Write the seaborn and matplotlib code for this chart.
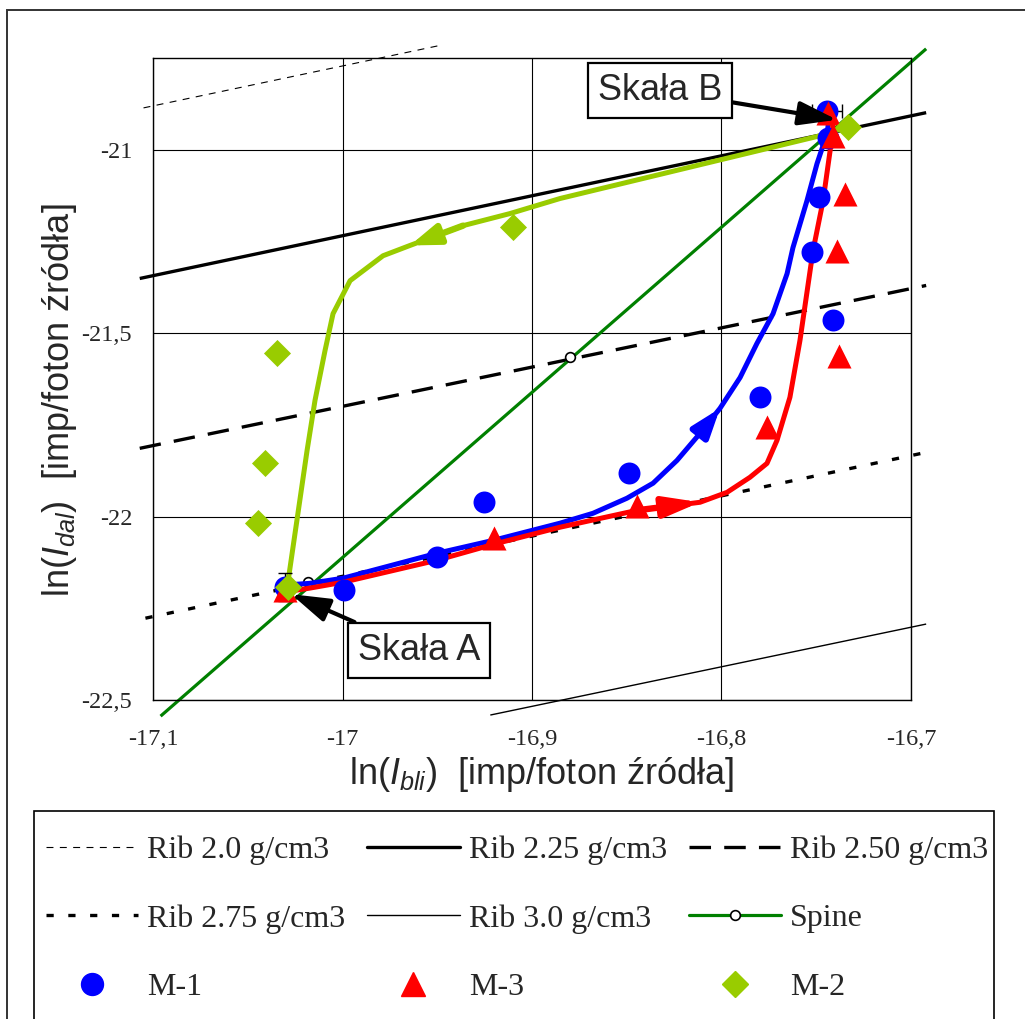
import matplotlib
matplotlib.use("Agg")
import matplotlib.pyplot as plt
from matplotlib.lines import Line2D
from matplotlib.patches import Rectangle
import seaborn as sns

sns.set_style("white")
plt.rcParams["font.family"] = ["Liberation Sans", "DejaVu Sans"]
plt.rcParams["mathtext.fontset"] = "custom"
plt.rcParams["mathtext.rm"] = "Liberation Sans"
plt.rcParams["mathtext.it"] = "Liberation Sans:italic"
plt.rcParams["lines.scale_dashes"] = False

# ---- axis ticks ----
x_ticks = [-17.1, -17.0, -16.9, -16.8, -16.7]
x_tick_labels = ["-17,1", "-17", "-16,9", "-16,8", "-16,7"]
y_ticks = [-22.5, -22.0, -21.5, -21.0]
y_tick_labels = ["-22,5", "-22", "-21,5", "-21"]

# ---- calibration lines (ribs of given density and the spine) ----
rib20_x = [-17.105, -16.947]
rib20_y = [-20.886, -20.714]
rib225_x = [-17.107, -16.692]
rib225_y = [-21.351, -20.899]
rib250_x = [-17.107, -16.692]
rib250_y = [-21.814, -21.370]
rib275_x = [-17.104, -16.692]
rib275_y = [-22.277, -21.825]
rib30_x = [-16.922, -16.692]
rib30_y = [-22.541, -22.293]
spine_x = [-17.096, -16.692]
spine_y = [-22.544, -20.725]
spine_pts_x = [-17.018, -16.880]
spine_pts_y = [-22.179, -21.564]

# ---- measurements ----
m1_x = [-17.0303, -16.9992, -16.9501, -16.9253, -16.8488, -16.7797,
        -16.7522, -16.7486, -16.7412, -16.7438, -16.7443]
m1_y = [-22.192, -22.200, -22.110, -21.960, -21.881, -21.675,
        -21.278, -21.128, -21.463, -20.967, -20.894]
m3_x = [-17.0303, -16.9200, -16.8446, -16.7760, -16.7380,
        -16.7390, -16.7348, -16.7412, -16.7438]
m3_y = [-22.201, -22.059, -21.972, -21.757, -21.561,
        -21.275, -21.120, -20.962, -20.899]
m2_x = [-17.0288, -17.0446, -17.0409, -17.0346, -16.9100, -16.7333]
m2_y = [-22.192, -22.018, -21.855, -21.553, -21.210, -20.937]
m1_yerr_first = 0.038
m1_xerr_last = 0.008

# ---- trajectories between Skała A and Skała B ----
path_m1_x = [-17.0314, -17.0172, -16.9997, -16.9501, -16.9206, -16.8852,
             -16.8678, -16.8499, -16.8361, -16.8235, -16.8113, -16.8008,
             -16.7902, -16.7813, -16.7728, -16.7654, -16.7623, -16.7549,
             -16.7496, -16.7443, -16.7427]
path_m1_y = [-22.187, -22.182, -22.168, -22.100, -22.065, -22.018,
             -21.991, -21.950, -21.909, -21.847, -21.773, -21.705,
             -21.621, -21.528, -21.447, -21.338, -21.267, -21.139,
             -21.038, -20.956, -20.894]
path_m3_x = [-17.0314, -17.0172, -16.9997, -16.9501, -16.9185, -16.8852,
             -16.8446, -16.8113, -16.7971, -16.7850, -16.7760, -16.7707,
             -16.7639, -16.7586, -16.7517, -16.7464, -16.7427, -16.7412,
             -16.7417]
path_m3_y = [-22.206, -22.195, -22.179, -22.119, -22.073, -22.029,
             -21.983, -21.961, -21.934, -21.893, -21.855, -21.792,
             -21.675, -21.520, -21.275, -21.139, -21.003, -20.948,
             -20.894]
path_m2_x = [-16.7332, -16.7480, -16.8852, -16.9116, -16.9364, -16.9644,
             -16.9786, -16.9960, -17.0050, -17.0092, -17.0145, -17.0187,
             -17.0288]
path_m2_y = [-20.937, -20.962, -21.133, -21.174, -21.207, -21.261,
             -21.289, -21.357, -21.447, -21.547, -21.683, -21.820,
             -22.179]

BLUE = "#0000FF"
RED = "#FF0000"
LIME = "#99CC00"
GREEN = "#008000"

W, H = 1025, 1019
fig = plt.figure(figsize=(W / 100, H / 100), dpi=100)
ax = fig.add_axes([153 / W, 1 - 700 / H, 758 / W, 642 / H])
ax.set_xlim(-17.1, -16.7)
ax.set_ylim(-22.5, -20.75)

# line styles shared by plot and legend
st_rib20 = dict(color="black", lw=0.8, ls=(0, (5.0, 4.6)))
st_rib225 = dict(color="black", lw=2.4, ls="-")
st_rib250 = dict(color="black", lw=2.4, ls=(0, (15.5, 9.5)))
st_rib275 = dict(color="black", lw=2.4, ls=(0, (5.2, 10.5)))
st_rib30 = dict(color="black", lw=1.0, ls="-")
st_spine = dict(color=GREEN, lw=2.3, ls="-")
st_spine_mk = dict(marker="o", mfc="white", mec="black", ms=7, mew=1.2)

for xs, ys, st in [(rib20_x, rib20_y, st_rib20), (rib225_x, rib225_y, st_rib225),
                   (rib250_x, rib250_y, st_rib250), (rib275_x, rib275_y, st_rib275),
                   (rib30_x, rib30_y, st_rib30), (spine_x, spine_y, st_spine)]:
    ax.plot(xs, ys, clip_on=False, solid_capstyle="butt",
            dash_capstyle="butt", zorder=2, **st)
ax.plot(spine_pts_x, spine_pts_y, ls="none", zorder=3, **st_spine_mk)

# trajectories
for xs, ys, col in [(path_m1_x, path_m1_y, BLUE), (path_m3_x, path_m3_y, RED),
                    (path_m2_x, path_m2_y, LIME)]:
    sns.lineplot(x=xs, y=ys, sort=False, estimator=None, color=col, lw=3.6,
                 ax=ax, zorder=4, solid_joinstyle="round")


def path_arrow(xs, ys, i0, i1, col, hl=1.7, hw=0.6):
    ax.annotate("", xy=(xs[i1], ys[i1]), xytext=(xs[i0], ys[i0]),
                arrowprops=dict(arrowstyle=f"-|>,head_length={hl},head_width={hw}",
                                color=col, lw=4.6, shrinkA=0, shrinkB=0),
                zorder=4)


path_arrow(path_m1_x, path_m1_y, 10, 11, BLUE)
path_arrow(path_m3_x, path_m3_y, 6, 7, RED, hl=2.1, hw=0.6)
path_arrow(path_m2_x, path_m2_y, 4, 5, LIME)

# error bars of the end points
ax.errorbar([m1_x[0]], [m1_y[0]], yerr=[m1_yerr_first], fmt="none",
            ecolor="black", elinewidth=1, capsize=5, zorder=5)
ax.errorbar([m1_x[-1]], [m1_y[-1]], xerr=[m1_xerr_last], fmt="none",
            ecolor="black", elinewidth=1, capsize=5, zorder=5)

# measured points
sns.scatterplot(x=m1_x, y=m1_y, marker="o", color=BLUE, s=250, linewidth=0,
                ax=ax, zorder=6)
sns.scatterplot(x=m3_x, y=m3_y, marker="^", color=RED, s=300, linewidth=0,
                ax=ax, zorder=7)
sns.scatterplot(x=m2_x, y=m2_y, marker="D", color=LIME, s=190, linewidth=0,
                ax=ax, zorder=8)

# annotations
box = dict(boxstyle="square,pad=0.28", fc="white", ec="black", lw=1.6)
arr = dict(arrowstyle="-|>,head_length=0.9,head_width=0.28", color="black",
           lw=3.0, shrinkA=0, shrinkB=1)
ax.annotate("Skała B", xy=(m1_x[-1] + 0.006, m1_y[-1] - 0.025),
            xytext=(-16.8325, -20.838), ha="center", va="center", fontsize=26,
            bbox=box, arrowprops=arr, zorder=10, annotation_clip=False)
ax.annotate("Skała A", xy=(m2_x[0] + 0.001, m2_y[0] - 0.018),
            xytext=(-16.9596, -22.365), ha="center", va="center", fontsize=26,
            bbox=box, arrowprops=arr, zorder=10, annotation_clip=False)

# axes styling
ax.set_xticks(x_ticks)
ax.set_xticklabels(x_tick_labels, family="Liberation Serif", fontsize=17.5)
ax.set_yticks(y_ticks)
ax.set_yticklabels(y_tick_labels, family="Liberation Serif", fontsize=17.5)
ax.tick_params(axis="y", length=0, pad=15)
ax.tick_params(axis="x", length=0, pad=21)
ax.grid(True, color="black", lw=0.8)
ax.set_axisbelow(True)
for sp in ax.spines.values():
    sp.set_color("black")
    sp.set_linewidth(1.0)

ax.set_xlabel(r"ln($I_{bli}$)  [imp/foton źródła]", fontsize=26)
ax.set_ylabel(r"ln($I_{dal}$)  [imp/foton źródła]", fontsize=26)
ax.xaxis.set_label_coords(0.513, -0.085)
ax.yaxis.set_label_coords(-0.097, 0.467)

# outer frame of the figure
fig.patches.append(Rectangle((7 / W, -0.05), 1.2, 1 - 10 / H + 0.05,
                             transform=fig.transFigure, fill=False,
                             ec="#333333", lw=1.4))
# legend frame
fig.patches.append(Rectangle((34 / W, -0.05), (994 - 34) / W, 1 - 811 / H + 0.05,
                             transform=fig.transFigure, fill=False,
                             ec="black", lw=1.2))

handles = [
    Line2D([], [], **st_rib20), Line2D([], [], **st_rib275),
    Line2D([], [], ls="none", marker="o", color=BLUE, ms=15.8),
    Line2D([], [], **st_rib225), Line2D([], [], **st_rib30),
    Line2D([], [], ls="none", marker="^", color=RED, ms=17),
    Line2D([], [], **st_rib250), Line2D([], [], **st_spine, **st_spine_mk),
    Line2D([], [], ls="none", marker="D", color=LIME, ms=13.5),
]
labels = ["Rib 2.0 g/cm3", "Rib 2.75 g/cm3", "M-1",
          "Rib 2.25 g/cm3", "Rib 3.0 g/cm3", "M-3",
          "Rib 2.50 g/cm3", "Spine", "M-2"]
fig.legend(handles, labels, ncol=3, loc="upper left",
           bbox_to_anchor=(36 / W, 1 - 826 / H), frameon=False,
           prop=dict(family="Liberation Serif", size=23.0),
           handlelength=2.9, handletextpad=0.28, columnspacing=0.68,
           labelspacing=1.22, borderpad=0.3, borderaxespad=0, numpoints=1)

fig.savefig("out.png", dpi=100)
